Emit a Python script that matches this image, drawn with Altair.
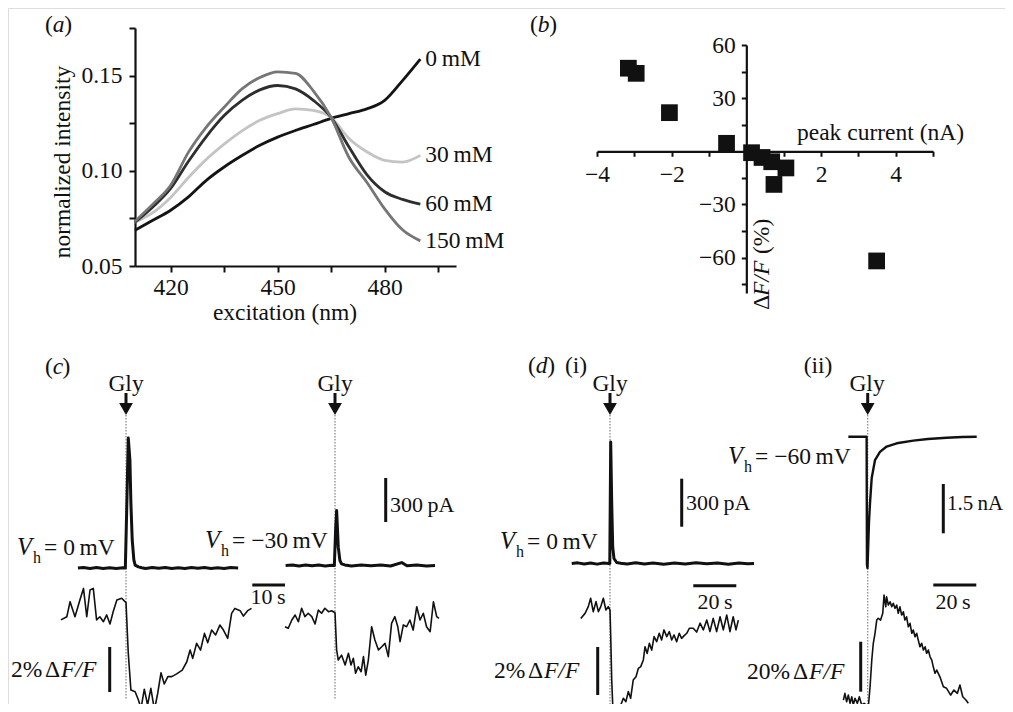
import altair as alt
import pandas as pd

FONT = "Liberation Serif, Times New Roman, DejaVu Serif, serif"
INK = "#111111"
FS = 23.5
FS_BAR = 22
TS = "\u2009"    # thin space
O = 8            # page margin: chart pixel = reference pixel - O
W, H = 997, 696

# ---------------- data: panel (a) ----------------
WAVELENGTH_NM = [410, 415, 420, 425, 430, 435, 440, 445, 450, 455, 460, 465, 470, 475, 480, 485, 490]
INTENSITY_0MM = [0.0688, 0.0740, 0.0793, 0.0863, 0.0950, 0.1020, 0.1080, 0.1134, 0.1177, 0.1212, 0.1243,
                 0.1275, 0.1300, 0.1325, 0.1370, 0.1474, 0.1587]
INTENSITY_30MM = [0.0730, 0.0780, 0.0860, 0.0965, 0.1060, 0.1140, 0.1210, 0.1265, 0.1300, 0.1325, 0.1317,
                  0.1280, 0.1170, 0.1100, 0.1055, 0.1046, 0.1081]
INTENSITY_60MM = [0.0730, 0.0810, 0.0907, 0.1050, 0.1180, 0.1290, 0.1370, 0.1425, 0.1448, 0.1430, 0.1370,
                  0.1280, 0.1125, 0.0980, 0.0890, 0.0850, 0.0825]
INTENSITY_150MM = [0.0735, 0.0825, 0.0924, 0.1098, 0.1230, 0.1334, 0.1430, 0.1490, 0.1520, 0.1512, 0.1420,
                   0.1280, 0.1070, 0.0940, 0.0800, 0.0690, 0.0632]
CONC_LABELS = ["0\u2009mM", "30\u2009mM", "60\u2009mM", "150\u2009mM"]
CONC_COLORS = ["#141414", "#c4c4c4", "#2e2e2e", "#767676"]

# ---------------- data: panel (b) ----------------
PEAK_CURRENT_NA = [-3.16, -2.95, -2.06, -0.53, 0.14, 0.42, 0.68, 1.06, 0.74, 3.49]
DFF_PCT = [46.9, 44.0, 21.8, 4.5, -0.8, -3.5, -5.9, -9.4, -18.7, -61.9]

# ---------------- data: panel (c) traces (t in s, Gly at t = 0) ----------------
C1_I_T = [-14.7, -13, -11, -9, -7, -5, -3, -1, -0.2, 0.3, 0.7, 1.2, 1.5, 1.9, 2.4, 2.8, 3.8, 4.8, 6, 8, 10,
          12, 14, 16, 18, 20, 22, 24, 26, 28, 30, 32, 34.3]
C1_I_PA = [0, 4, -3, 3, -4, 2, -3, 2, 0, 480, 886, 736, 441, 191, 55, 20, 8, 2, -3, 4, -2, 3, -4, 2, -3, 3,
           -2, 4, -3, 2, -4, 3, 0]
C1_F_T = [-19.9, -18.1, -17.1, -15.6, -14.1, -13.0, -12.0, -11.0, -10.0, -9.0, -8.0, -6.9, -5.9, -4.9, -3.9,
          -2.8, -1.3, 0.0, 0.7, 1.5, 2.8, 3.8, 4.6, 5.6, 6.6, 7.6, 8.7, 9.7, 10.7, 11.7, 12.8, 14.0, 15.5, 17.2,
          18.6, 19.6, 20.4, 21.6, 22.8, 24.0, 25.0, 26.2, 27.4, 28.7, 29.8, 31.1, 32.3, 33.3, 34.9, 35.9, 37.2,
          38.4]
C1_F_PCT = [-0.44, -0.30, 0.37, -0.30, 0.44, 0.96, -0.30, 0.89, 0.96, -0.44, -0.30, -0.52, -0.22, -0.62,
            -0.07, 0.44, 0.52, 0.33, -1.93, -3.56, -3.63, -4.0, -4.37, -3.52, -4.22, -3.48, -4.44, -3.70, -2.79,
            -3.29, -2.96, -2.96, -2.84, -2.67, -2.30, -1.78, -2.15, -1.48, -1.78, -1.04, -1.45, -0.89, -1.11,
            -0.67, -0.89, -1.26, -0.15, 0.07, -0.03, -0.27, -0.03, 0.07]
C2_I_T = [-15.1, -13, -11, -9, -7, -5, -3, -1, -0.2, 0.2, 0.5, 1.0, 1.5, 2.0, 3.0, 5, 8, 11, 14, 17, 20.4,
          22, 25, 28, 30.6]
C2_I_PA = [0, 3, -3, 4, -2, 3, -3, 2, 0, 250, 375, 125, 34, 11, 4, -3, 3, -2, 3, -3, 20, -2, 3, -3, 0]
C2_F_T = [-15.3, -14.3, -13.2, -12.2, -11.2, -10.2, -9.2, -8.2, -7.1, -6.1, -5.1, -4.1, -3.1, -2.0, -1.0, 0.0,
          0.5, 1.0, 2.0, 3.1, 4.1, 4.9, 5.6, 6.3, 7.1, 8.0, 8.7, 9.4, 10.2, 11.2, 12.2, 13.3, 14.3, 15.3, 16.3,
          17.3, 18.3, 19.2, 19.9, 20.9, 21.9, 22.9, 23.9, 25.0, 26.0, 27.0, 28.0, 29.1, 30.1, 31.1, 31.8]
C2_F_PCT = [-0.61, -0.68, -0.31, -0.09, -0.39, 0.21, -0.16, -0.01, -0.16, -0.49, 0.13, -0.01, 0.21, 0.06, 0.10,
            0.01, -1.64, -2.09, -1.87, -2.31, -1.79, -2.31, -2.01, -2.68, -2.39, -2.61, -1.94, -2.76, -2.09,
            -0.61, -1.20, -1.64, -1.50, -1.35, -1.94, -0.46, -0.16, -0.61, -1.27, -0.53, -0.61, -0.31, -0.76,
            0.28, -0.31, -0.01, -0.61, -0.83, 0.50, -0.16, -0.24]

# ---------------- data: panel (d) traces ----------------
D1_I_T = [-17.8, -15, -12, -9, -6, -3, -0.5, -0.1, 0.33, 0.8, 1.26, 1.86, 3.1, 5, 8, 12, 16, 20, 25, 30, 35,
          40, 45, 50, 55, 60, 64, 67]
D1_I_PA = [0, 4, -3, 3, -4, 3, 0, 0, 760, 375, 104, 31, 6, 2, -3, 4, -3, 3, -4, 3, -3, 4, -2, 3, -4, 3, -2, 0]
D1_F_T = [-13.6, -11.6, -10.1, -9.0, -7.8, -6.5, -5.4, -4.3, -3.1, -1.9, -0.8, 0.0, 0.3, 0.8, 1.3, 1.9, 3.1,
          4.7, 6.2, 7.4, 8.5, 9.6, 10.8, 12.1, 13.2, 14.3, 15.5, 16.3, 17.3, 18.3, 19.4, 20.5, 21.7, 22.9, 24.0,
          25.1, 26.4, 27.6, 28.7, 29.8, 31.0, 32.2, 33.3, 34.4, 35.7, 36.9, 38.7, 40.3, 41.9, 43.4, 45.0, 46.5,
          48.0, 49.6, 51.2, 52.7, 54.3, 55.8, 57.3, 58.6, 59.7]
D1_F_PCT = [-0.35, -0.14, 0.14, 0.49, -0.07, 0.35, -0.07, 0.14, 0.49, 0.0, 0.14, 0.0, -0.97, -2.92, -4.03,
            -4.17, -4.0, -4.03, -3.68, -3.82, -3.40, -3.68, -2.92, -2.78, -2.43, -2.36, -2.08, -1.53, -1.81,
            -1.39, -1.67, -1.11, -1.32, -0.97, -1.25, -0.83, -1.11, -0.90, -1.25, -1.04, -1.32, -0.97, -1.18,
            -1.08, -0.97, -0.76, -0.76, -0.92, -0.55, -0.83, -0.42, -0.90, -0.35, -0.90, -0.28, -0.83, -0.21,
            -0.90, -0.28, -0.83, -0.42]
D2_I_T = [-9.0, -6, -3, -0.5, -0.35, -0.1, 0.3, 0.6, 1.07, 1.86, 3.4, 5.7, 8.8, 13.5, 21.2, 28, 36.7, 44, 50.7]
D2_I_NA = [0, 0, 0, 0, -3.9, -4.0, -3.2, -2.6, -2.02, -1.26, -0.71, -0.46, -0.30, -0.20, -0.12, -0.07, -0.03,
           -0.01, 0]
D2_F_T = [-11.3, -10.6, -9.8, -9.0, -8.2, -7.4, -6.7, -5.9, -4.8, -3.9, -2.8, -1.7, -0.5, 0.3, 1.1, 1.9, 2.6,
          3.4, 4.2, 4.9, 6.0, 7.0, 7.6, 8.4, 8.8, 9.6, 10.4, 11.2, 11.9, 12.7, 13.5, 14.2, 15.0, 15.8, 16.6,
          17.3, 18.1, 18.9, 19.7, 20.5, 21.2, 22.0, 22.8, 23.5, 24.3, 25.1, 25.9, 26.7, 27.4, 28.2, 29.0, 29.8,
          30.5, 31.3, 32.1, 33.6, 35.2, 36.7, 38.6, 40.1, 41.7, 42.9, 44.2, 45.7, 46.8]
D2_F_PCT = [-0.7, 2.0, -1.4, 1.3, -2.0, 0.6, -2.7, 0.0, -2.0, 0.6, -2.7, -2.0, -2.7, -3.4, 4.6, 15.3, 22.0,
            26.0, 31.3, 32.0, 31.3, 34.0, 41.3, 36.6, 40.6, 37.3, 38.6, 36.6, 38.0, 36.0, 37.3, 34.0, 36.6, 33.3,
            34.6, 31.3, 32.6, 28.6, 30.0, 26.0, 27.3, 24.6, 26.0, 23.3, 20.6, 22.0, 19.3, 20.6, 18.0, 19.3, 16.6,
            15.3, 12.6, 10.0, 11.3, 8.6, 4.6, 4.0, 1.3, 3.3, 2.0, 5.3, 0.6, -0.7, -2.0]

# scale-bar magnitudes
BAR_C = {"i": 300, "t": 10, "f": 2}
BAR_D1 = {"i": 300, "t": 20, "f": 2}
BAR_D2 = {"i": 1.5, "t": 20, "f": 20}

# ---------------- helpers ----------------
def lin(domain, rng):
    return alt.Scale(domain=domain, range=rng, nice=False, zero=False)


def tscale(gx, pps):
    return lin([-100, 100], [gx - O - 100 * pps, gx - O + 100 * pps])


def vscale(y0, ppu, span):
    return lin([-span, span], [y0 - O + span * ppu, y0 - O - span * ppu])


EMPTY = alt.Data(values=[{}])


def txt(s, x, y, size=FS, italic=False, align="left", baseline="middle", angle=0):
    return alt.Chart(EMPTY).mark_text(
        text=s, font=FONT, fontSize=size, fontStyle="italic" if italic else "normal",
        align=align, baseline=baseline, angle=angle, color=INK,
    ).encode(x=alt.value(x - O), y=alt.value(y - O))


def vh(x_v, y, rest):
    return [txt("V", x_v, y, size=24.5, italic=True), txt("h", x_v + 16, y + 10, size=16),
            txt(rest, x_v + 27, y)]


def dff(x, y, pct):
    w = {"2%": 34, "20%": 46}[pct]
    return [txt(pct, x, y), txt("\u0394", x + w, y), txt("F/F", x + w + 16, y, italic=True)]


def trace(ts, vs, xs, ys, width):
    df = pd.DataFrame({"t": ts, "v": vs})
    return alt.Chart(df).mark_line(color=INK, strokeWidth=width, strokeJoin="round").encode(
        x=alt.X("t:Q", scale=xs, axis=None), y=alt.Y("v:Q", scale=ys, axis=None))


def vbar(x_px, bottom_px, length, y0, ppu, ys):
    lo = (y0 - bottom_px) / ppu
    df = pd.DataFrame({"a": [lo], "b": [lo + length]})
    return alt.Chart(df).mark_rule(color=INK, strokeWidth=3).encode(
        x=alt.value(x_px - O), y=alt.Y("a:Q", scale=ys, axis=None), y2="b:Q")


def hbar(left_px, y_px, length, gx, pps, xs):
    lo = (left_px - gx) / pps
    df = pd.DataFrame({"a": [lo], "b": [lo + length]})
    return alt.Chart(df).mark_rule(color=INK, strokeWidth=3).encode(
        x=alt.X("a:Q", scale=xs, axis=None), x2="b:Q", y=alt.value(y_px - O))


def gly(xs, top, bottom, label_x):
    df = pd.DataFrame({"t": [0]})
    base = alt.Chart(df)
    dotted = base.mark_rule(color="#8c8c8c", strokeWidth=1.3, strokeDash=[1.5, 1.5]).encode(
        x=alt.X("t:Q", scale=xs, axis=None), y=alt.value(top - O), y2=alt.value(bottom - O))
    stem = base.mark_rule(color=INK, strokeWidth=3).encode(
        x=alt.X("t:Q", scale=xs, axis=None), y=alt.value(393 - O), y2=alt.value(404 - O))
    head = base.mark_point(shape="triangle-down", filled=True, size=190, color=INK, opacity=1).encode(
        x=alt.X("t:Q", scale=xs, axis=None), y=alt.value(409 - O))
    return [dotted, stem, head, txt("Gly", label_x, 384, align="center")]


AX = dict(grid=False, domainColor=INK, domainWidth=2.2, tickColor=INK, tickWidth=2, labelFont=FONT,
          labelFontSize=FS, labelColor=INK, labelOverlap=False, labelFlush=False, title=None)

layers = []

# ================= panel (a) =================
XA = lin([410, 500], [135 - O, 456 - O])
YA = lin([0.05, 0.175], [266 - O, 28 - O])
rows = []
for name, vals in zip(CONC_LABELS, [INTENSITY_0MM, INTENSITY_30MM, INTENSITY_60MM, INTENSITY_150MM]):
    for w, v in zip(WAVELENGTH_NM, vals):
        rows.append({"wl": w, "val": v, "conc": name})
df_a = pd.DataFrame(rows)
lines_a = alt.Chart(df_a).mark_line(strokeWidth=2.8, interpolate="monotone").encode(
    x=alt.X("wl:Q", scale=XA, axis=alt.Axis(
        orient="bottom", offset=(266 - O) - H, values=[420, 435, 450, 465, 480, 495],
        labelExpr="datum.value % 30 == 0 ? datum.label : ''", tickSize=6, labelPadding=3, **AX)),
    y=alt.Y("val:Q", scale=YA, axis=alt.Axis(
        orient="left", offset=-(135 - O), values=[0.05, 0.075, 0.1, 0.125, 0.15, 0.175],
        labelExpr="abs(datum.value * 20 - round(datum.value * 20)) < 0.000001 ? format(datum.value, '.2f') : ''",
        tickSize=6, labelPadding=7, **AX)),
    color=alt.Color("conc:N", scale=alt.Scale(domain=CONC_LABELS, range=CONC_COLORS), legend=None),
)
layers.append(lines_a)
df_a_end = df_a[df_a["wl"] == WAVELENGTH_NM[-1]]
layers.append(alt.Chart(df_a_end).mark_text(
    align="left", baseline="middle", dx=5, font=FONT, fontSize=FS, color=INK).encode(
    x=alt.X("wl:Q", scale=XA, axis=None), y=alt.Y("val:Q", scale=YA, axis=None), text="conc:N"))
layers += [txt("(", 45, 25), txt("a", 52.7, 25, italic=True), txt(")", 64.2, 25)]
layers.append(txt("normalized intensity", 63, 162, align="center", angle=270))
layers.append(txt("excitation (nm)", 285, 313, align="center"))

# ================= panel (b) =================
XB_PX = (597, 933)
YB_PX = (293, 45)
XB = lin([-4, 5], [XB_PX[0] - O, XB_PX[1] - O])
YB = lin([-80, 60], [YB_PX[0] - O, YB_PX[1] - O])
zero_x = XB_PX[0] + (0 - (-4)) / 9 * (XB_PX[1] - XB_PX[0])
zero_y = YB_PX[0] + (0 - (-80)) / 140 * (YB_PX[1] - YB_PX[0])
df_b = pd.DataFrame({"i": PEAK_CURRENT_NA, "f": DFF_PCT})
layers.append(alt.Chart(df_b).mark_square(size=280, color=INK, opacity=1).encode(
    x=alt.X("i:Q", scale=XB, axis=alt.Axis(
        orient="bottom", offset=(zero_y - O) - H, values=[-4, -3, -2, -1, 1, 2, 3, 4, 5],
        labelExpr="datum.value % 2 == 0 ? datum.label : ''", tickSize=5, labelPadding=6, **AX)),
    y=alt.Y("f:Q", scale=YB, axis=alt.Axis(
        orient="left", offset=-(zero_x - O), values=[-75, -60, -45, -30, -15, 15, 30, 45, 60],
        labelExpr="datum.value % 30 == 0 ? datum.label : ''", tickSize=5, labelPadding=6, **AX)),
))
layers += [txt("(", 530, 25), txt("b", 537.7, 25, italic=True), txt(")", 549.2, 25)]
layers.append(txt("peak current (nA)", 797, 133))
layers += [txt("\u0394", 762, 310, angle=270), txt("F/F", 762, 296, italic=True, angle=270),
           txt("(%)", 762, 254, angle=270)]

# ================= panel (c) =================
GX_C1, GX_C2, PPS_C = 126, 335, 3.27
PPU_IC = 44 / 300
PPU_FC = 22.5
XC1 = tscale(GX_C1, PPS_C)
XC2 = tscale(GX_C2, PPS_C)
YC1_I = vscale(568, PPU_IC, 2000)
YC2_I = vscale(565.5, PPU_IC, 2000)
YC1_F = vscale(610, PPU_FC, 20)
YC2_F = vscale(613, PPU_FC, 20)
layers += gly(XC1, 415, 700, GX_C1)
layers += gly(XC2, 415, 700, GX_C2)
layers.append(trace(C1_I_T, C1_I_PA, XC1, YC1_I, 3))
layers.append(trace(C2_I_T, C2_I_PA, XC2, YC2_I, 3))
layers.append(trace(C1_F_T, C1_F_PCT, XC1, YC1_F, 1.6))
layers.append(trace(C2_F_T, C2_F_PCT, XC2, YC2_F, 1.6))
layers.append(vbar(385.7, 522, BAR_C["i"], 568, PPU_IC, YC1_I))
layers.append(hbar(252.3, 585, BAR_C["t"], GX_C1, PPS_C, XC1))
layers.append(vbar(109.7, 692, BAR_C["f"], 610, PPU_FC, YC1_F))
layers += [txt("(", 45, 367), txt("c", 52.7, 367, italic=True), txt(")", 62.5, 367)]
layers += vh(17, 548, "= 0" + TS + "mV")
layers += vh(205, 541, "= \u221230" + TS + "mV")
layers.append(txt("300" + TS + "pA", 390, 505, size=FS_BAR))
layers.append(txt("10" + TS + "s", 268, 597, size=FS_BAR, align="center"))
layers += dff(11, 670, "2%")

# ================= panel (d) =================
GX_D1, GX_D2, PPS_D = 610, 867.7, 2.15
PPU_ID1 = 48 / 300
PPU_ID2 = 49.3 / 1.5
PPU_FD1 = 24
PPU_FD2 = 2.5
XD1 = tscale(GX_D1, PPS_D)
XD2 = tscale(GX_D2, PPS_D)
YD1_I = vscale(563.5, PPU_ID1, 2000)
YD2_I = vscale(436.7, PPU_ID2, 10)
YD1_F = vscale(610, PPU_FD1, 20)
YD2_F = vscale(698.3, PPU_FD2, 100)
layers += gly(XD1, 415, 704, GX_D1)
layers += gly(XD2, 415, 704, 867)
layers.append(trace(D1_I_T, D1_I_PA, XD1, YD1_I, 3))
layers.append(trace(D2_I_T, D2_I_NA, XD2, YD2_I, 2.4))
layers.append(trace(D1_F_T, D1_F_PCT, XD1, YD1_F, 1.6))
layers.append(trace(D2_F_T, D2_F_PCT, XD2, YD2_F, 1.6))
layers.append(vbar(681.7, 526.7, BAR_D1["i"], 563.5, PPU_ID1, YD1_I))
layers.append(hbar(693.3, 585.7, BAR_D1["t"], GX_D1, PPS_D, XD1))
layers.append(vbar(597.7, 695, BAR_D1["f"], 610, PPU_FD1, YD1_F))
layers.append(vbar(943.3, 533.3, BAR_D2["i"], 436.7, PPU_ID2, YD2_I))
layers.append(hbar(933.3, 585, BAR_D2["t"], GX_D2, PPS_D, XD2))
layers.append(vbar(860.7, 691.7, BAR_D2["f"], 698.3, PPU_FD2, YD2_F))
layers += [txt("(", 528, 366), txt("d", 535.7, 366, italic=True), txt(")", 547.2, 366), txt("(i)", 565, 366)]
layers.append(txt("(ii)", 818, 366, align="center"))
layers += vh(500, 542, "= 0" + TS + "mV")
layers += vh(728, 457, "= \u221260" + TS + "mV")
layers.append(txt("300" + TS + "pA", 686, 503, size=FS_BAR))
layers.append(txt("20" + TS + "s", 715, 602, size=FS_BAR, align="center"))
layers += dff(494, 671, "2%")
layers.append(txt("1.5" + TS + "nA", 947, 504, size=21))
layers.append(txt("20" + TS + "s", 953, 602, size=FS_BAR, align="center"))
layers += dff(747, 672, "20%")

chart = alt.layer(*layers).resolve_scale(x="independent", y="independent").properties(
    width=W, height=H, padding=0, autosize=alt.AutoSizeParams(type="none"),
).configure_view(stroke=None).configure(background="white")

chart.save("out.html", embed_options={"renderer": "svg", "actions": False})
